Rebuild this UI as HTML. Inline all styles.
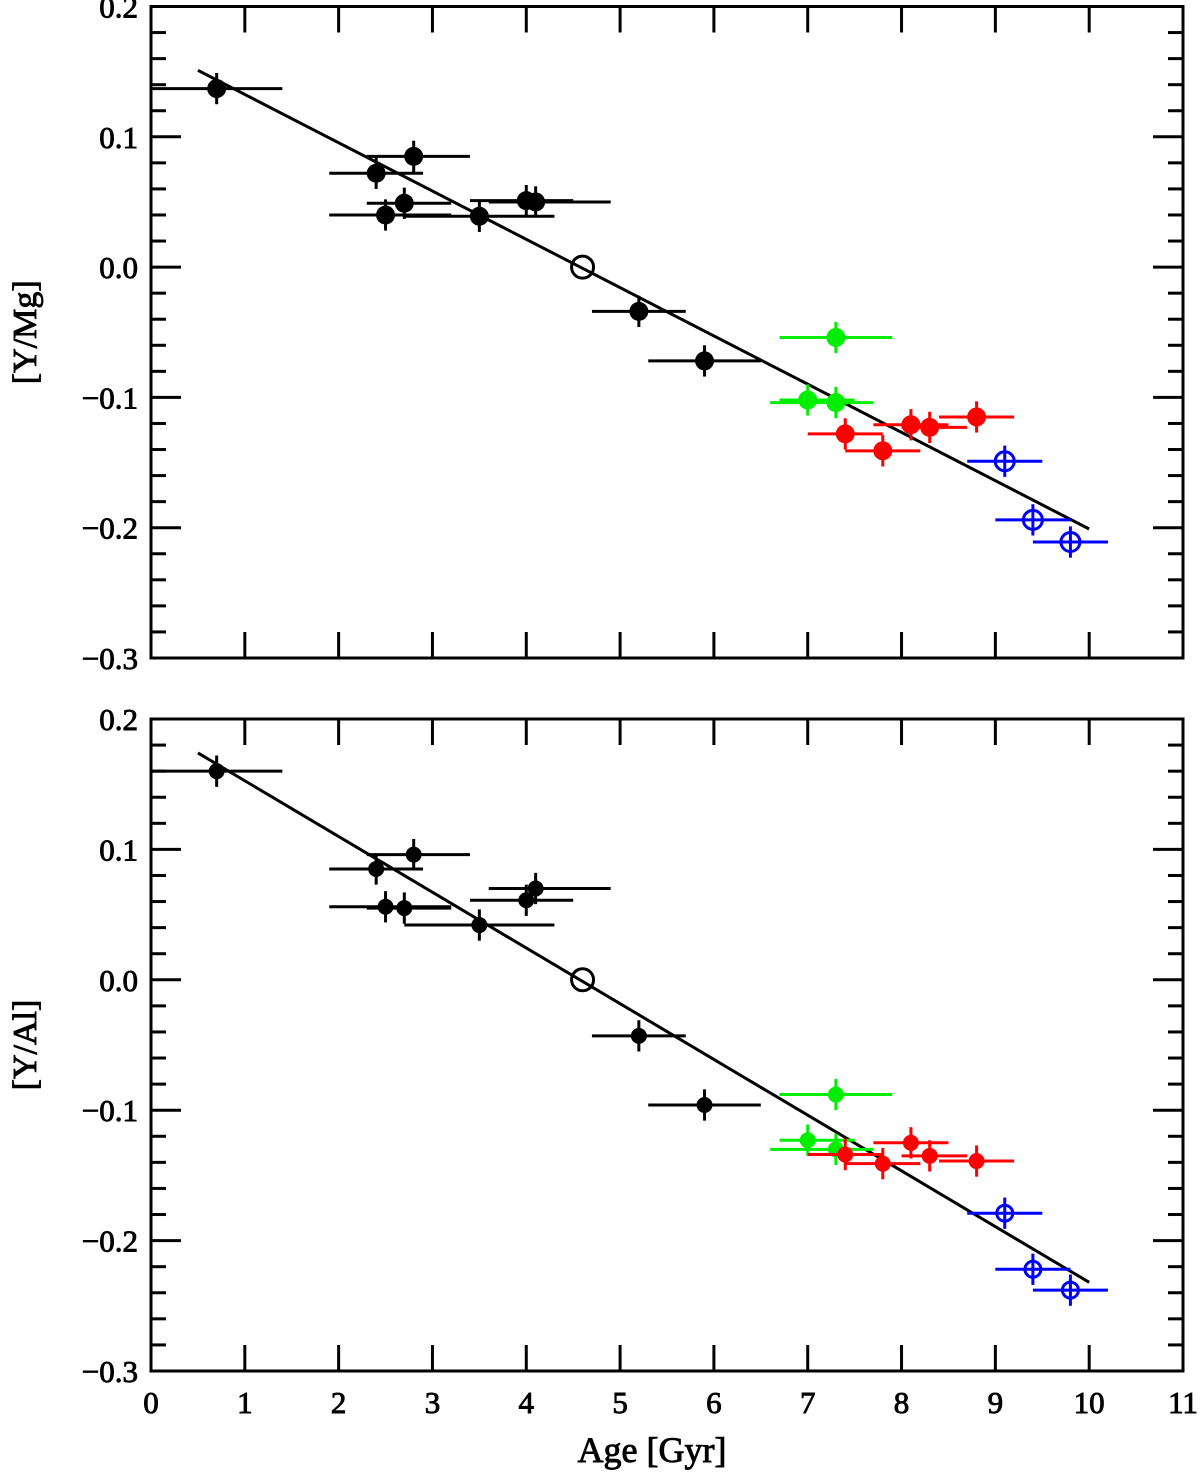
<!DOCTYPE html>
<html><head><meta charset="utf-8"><style>
html,body{margin:0;padding:0;background:#fff}
svg{display:block}
text{font-family:"Liberation Serif",serif;font-weight:normal;fill:#000;stroke:#000;stroke-width:0.9}
</style></head><body>
<svg id="chart" width="1200" height="1473" viewBox="0 0 1200 1473" xmlns="http://www.w3.org/2000/svg"></svg>
<script>
// ---- data ----
const mgAge   = [0.7,2.4,2.8,2.5,2.7,3.5,4.0,4.1,5.2,5.9, 7.0,7.3,7.3, 7.4,7.8,8.1,8.3,8.8, 9.1,9.4,9.8];
const mgVal   = [0.137,0.072,0.085,0.040,0.049,0.039,0.051,0.050,-0.034,-0.072, -0.102,-0.104,-0.054, -0.128,-0.141,-0.121,-0.123,-0.115, -0.149,-0.194,-0.211];
const alVal   = [0.160,0.085,0.096,0.056,0.055,0.042,0.061,0.070,-0.043,-0.096, -0.123,-0.130,-0.088, -0.134,-0.141,-0.125,-0.135,-0.139, -0.179,-0.222,-0.238];
const ageLo   = [0.0,1.9,2.3,1.9,2.3,2.7,3.4,3.6,4.7,5.3, 6.7,6.6,6.7, 7.0,7.4,7.7,8.0,8.4, 8.7,9.0,9.4];
const ageHi   = [1.4,2.9,3.4,3.2,3.2,4.3,4.5,4.9,5.7,6.5, 7.5,7.7,7.9, 7.8,8.2,8.5,8.7,9.2, 9.5,9.8,10.2];
const group   = ["k","k","k","k","k","k","k","k","k","k","g","g","g","r","r","r","r","r","b","b","b"];
const yErr    = 0.012;
const mgFit   = [[0.5,0.151],[10,-0.201]];
const alFit   = [[0.5,0.174],[10,-0.232]];
const xTicks  = [0,1,2,3,4,5,6,7,8,9,10,11];
const yTicks  = [0.2,0.1,0.0,-0.1,-0.2,-0.3];
const yTickLabels = ["0.2","0.1","0.0","\u22120.1","\u22120.2","\u22120.3"];

const colors = {k:"#000",g:"#00ee00",r:"#ff0000",b:"#0000ff"};
const NS="http://www.w3.org/2000/svg";
const svg=document.getElementById('chart');
const L=151, R=1183;
const xs=v=>L+(v-0)*(R-L)/11;
function mk(tag,attrs,parent){const e=document.createElementNS(NS,tag);for(const k in attrs)e.setAttribute(k,attrs[k]);(parent||svg).appendChild(e);return e;}

function panel(name, top, bottom, vals, fit, title, rad){
  const g=mk('g',{});
  
  
  const ys=v=>top+(0.2-v)*(bottom-top)/0.5;
  const fr=mk('rect',{x:L,y:top,width:R-L,height:bottom-top,fill:'none',stroke:'#000','stroke-width':3},g);
  
  
  for(let i=0;i<=25;i++){
    const v=0.2-i*0.02, y=ys(v), len=(i%5===0)?30:15;
    mk('line',{x1:L,x2:L+len,y1:y,y2:y,stroke:'#000','stroke-width':3},g);
    mk('line',{x1:R,x2:R-len,y1:y,y2:y,stroke:'#000','stroke-width':3},g);
  }
  yTicks.forEach((v,i)=>{
    const t=mk('text',{x:138,y:ys(v)+11,'text-anchor':'end','font-size':31},g);
    t.textContent=yTickLabels[i];
    
    
  });
  xTicks.forEach(v=>{
    const x=xs(v);
    mk('line',{x1:x,x2:x,y1:bottom,y2:bottom-26,stroke:'#000','stroke-width':3},g);
    mk('line',{x1:x,x2:x,y1:top,y2:top+26,stroke:'#000','stroke-width':3},g);
  });
  const yt=mk('text',{x:0,y:0,'text-anchor':'middle','font-size':34,transform:`translate(36,${(top+bottom)/2}) rotate(-90)`},g);
  yt.textContent=title;
  
  
  const fl=mk('line',{x1:xs(fit[0][0]),y1:ys(fit[0][1]),x2:xs(fit[1][0]),y2:ys(fit[1][1]),stroke:'#000','stroke-width':3},g);
  
  
  mgAge.forEach((a,i)=>{
    const c=colors[group[i]], x=xs(a), y=ys(vals[i]);
    const pg=mk('g',{},g);
    
    
    mk('line',{x1:xs(ageLo[i]),x2:xs(ageHi[i]),y1:y,y2:y,stroke:c,'stroke-width':3},pg);
    mk('line',{x1:x,x2:x,y1:ys(vals[i]+yErr),y2:ys(vals[i]-yErr),stroke:c,'stroke-width':3},pg);
    if(group[i]==='b') mk('circle',{cx:x,cy:y,r:rad,fill:'none',stroke:c,'stroke-width':3},pg);
    else mk('circle',{cx:x,cy:y,r:rad,fill:c},pg);
  });
  const s=mk('circle',{cx:xs(4.6),cy:ys(0),r:11,fill:'none',stroke:'#000','stroke-width':3},g);
  
  
}
panel('panel-y-mg',6.5,658,mgVal,mgFit,'[Y/Mg]',9.5);
panel('panel-y-al',719,1371,alVal,alFit,'[Y/Al]',8);
xTicks.forEach(v=>{
  const t=mk('text',{x:xs(v),y:1413,'text-anchor':'middle','font-size':31});
  t.textContent=String(v);
  
  
});
const xt=mk('text',{x:652,y:1462,'text-anchor':'middle','font-size':36});
xt.textContent='Age [Gyr]';


</script>
</body></html>
